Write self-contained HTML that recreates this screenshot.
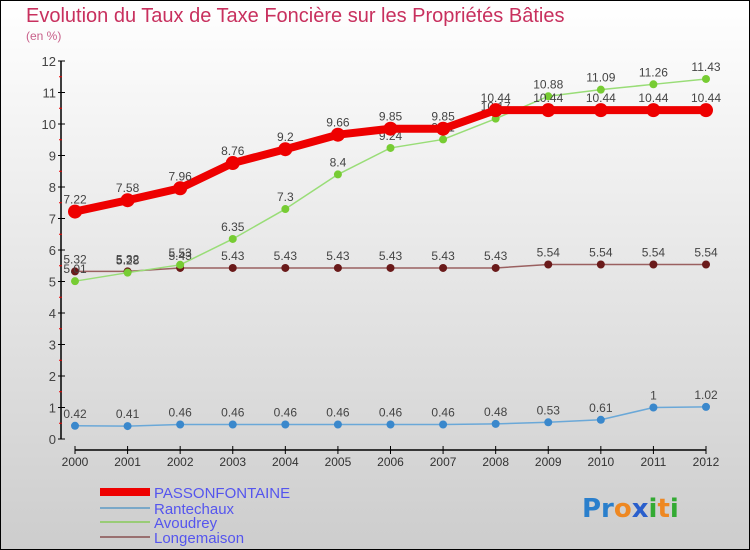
<!DOCTYPE html>
<html><head><meta charset="utf-8"><style>
body{margin:0}
#c{width:750px;height:550px;position:relative;overflow:hidden;font-family:"Liberation Sans","DejaVu Sans",sans-serif}
</style></head><body>
<div id="c">
<svg id="s" width="750" height="550" xmlns="http://www.w3.org/2000/svg">
<defs><linearGradient id="bg" x1="0" y1="0" x2="0" y2="1"><stop offset="0" stop-color="#ffffff"/><stop offset="1" stop-color="#cdcdcd"/></linearGradient></defs>
<rect x="0.5" y="0.5" width="749" height="549" fill="url(#bg)" stroke="#000"/>
<text x="26" y="22" font-size="20" fill="#c8305e">Evolution du Taux de Taxe Foncière sur les Propriétés Bâties</text>
<text x="26" y="40" font-size="12" fill="#c8608a">(en %)</text>
<g id="axes"></g><g id="series"></g>
<g>
<rect x="100" y="488" width="50" height="8" fill="#ee0000"/>
<text x="154" y="498" font-size="15" fill="#5555ee">PASSONFONTAINE</text>
<line x1="100" y1="508" x2="150" y2="508" stroke="#7aa8c8" stroke-width="2"/>
<text x="154" y="514" font-size="15" fill="#5555ee">Rantechaux</text>
<line x1="100" y1="522" x2="150" y2="522" stroke="#99cc77" stroke-width="2"/>
<text x="154" y="528" font-size="15" fill="#5555ee">Avoudrey</text>
<line x1="100" y1="537" x2="150" y2="537" stroke="#997070" stroke-width="2"/>
<text x="154" y="543" font-size="15" fill="#5555ee">Longemaison</text>
</g>
<g font-size="26" font-weight="bold" font-family="'DejaVu Sans',sans-serif">
<text x="582" y="517"><tspan fill="#2a7fcc">Pr</tspan><tspan fill="#ee8822">o</tspan><tspan fill="#2a5fcc">x</tspan><tspan fill="#33aa33">i</tspan><tspan fill="#ee8822">t</tspan><tspan fill="#33aa33">i</tspan></text>
</g>
</svg>
</div>
<script>
const years=["2000","2001","2002","2003","2004","2005","2006","2007","2008","2009","2010","2011","2012"];
const yTicks=[0,1,2,3,4,5,6,7,8,9,10,11,12];
const passonfontaine=[7.22,7.58,7.96,8.76,9.2,9.66,9.85,9.85,10.44,10.44,10.44,10.44,10.44];
const rantechaux=[0.42,0.41,0.46,0.46,0.46,0.46,0.46,0.46,0.48,0.53,0.61,1,1.02];
const avoudrey=[5.01,5.28,5.53,6.35,7.3,8.4,9.24,9.51,10.17,10.88,11.09,11.26,11.43];
const longemaison=[5.32,5.32,5.43,5.43,5.43,5.43,5.43,5.43,5.43,5.54,5.54,5.54,5.54];
const NS="http://www.w3.org/2000/svg";
const xS=i=>75+i*(706-75)/(years.length-1);
const yS=v=>439-v*(439-61)/12;
function mk(tag,attrs,parent){const e=document.createElementNS(NS,tag);for(const k in attrs)e.setAttribute(k,attrs[k]);parent.appendChild(e);return e;}
const ax=document.getElementById('axes');
const yl=mk('line',{x1:61,y1:61,x2:61,y2:439,stroke:'#000','stroke-width':1.5},ax);


const xl=mk('line',{x1:75,y1:450,x2:706,y2:450,stroke:'#000','stroke-width':1.5},ax);


yTicks.forEach(t=>{
 mk('line',{x1:58,y1:yS(t),x2:65,y2:yS(t),stroke:'#000'},ax);
 if(t<12) mk('line',{x1:59,y1:yS(t+0.5),x2:62,y2:yS(t+0.5),stroke:'#e00'},ax);
 const tx=mk('text',{x:56,y:yS(t)+5,'font-size':13,fill:'#444','text-anchor':'end'},ax);
 tx.textContent=t;
 
 
});
years.forEach((y,i)=>{
 mk('line',{x1:xS(i),y1:446,x2:xS(i),y2:454,stroke:'#000'},ax);
 const tx=mk('text',{x:xS(i),y:466,'font-size':12,fill:'#333','text-anchor':'middle'},ax);
 tx.textContent=y;
 
 
});
const sg=document.getElementById('series');
function draw(name,vals,color,lineColor,w,r){
 const g=mk('g',{},sg);
 
 
 const p=mk('polyline',{points:vals.map((v,i)=>xS(i)+','+yS(v)).join(' '),fill:'none',stroke:lineColor,'stroke-width':w,'stroke-linejoin':'round'},g);
 
 
 vals.forEach((v,i)=>{
  const c=mk('circle',{cx:xS(i),cy:yS(v),r:r,fill:color},g);
  
  
  const t=mk('text',{x:xS(i),y:yS(v)-8,'font-size':12,fill:'#444','text-anchor':'middle'},g);
  t.textContent=v;
  
  
 });
}
draw('rantechaux',rantechaux,'#3a88cc','#6aa8d8',1.5,4);
draw('longemaison',longemaison,'#6a1a1a','#9a6060',1.5,4);
draw('avoudrey',avoudrey,'#77cc33','#99dd77',1.5,4);
draw('passonfontaine',passonfontaine,'#ee0000','#ee0000',8,7);
</script>
</body></html>
